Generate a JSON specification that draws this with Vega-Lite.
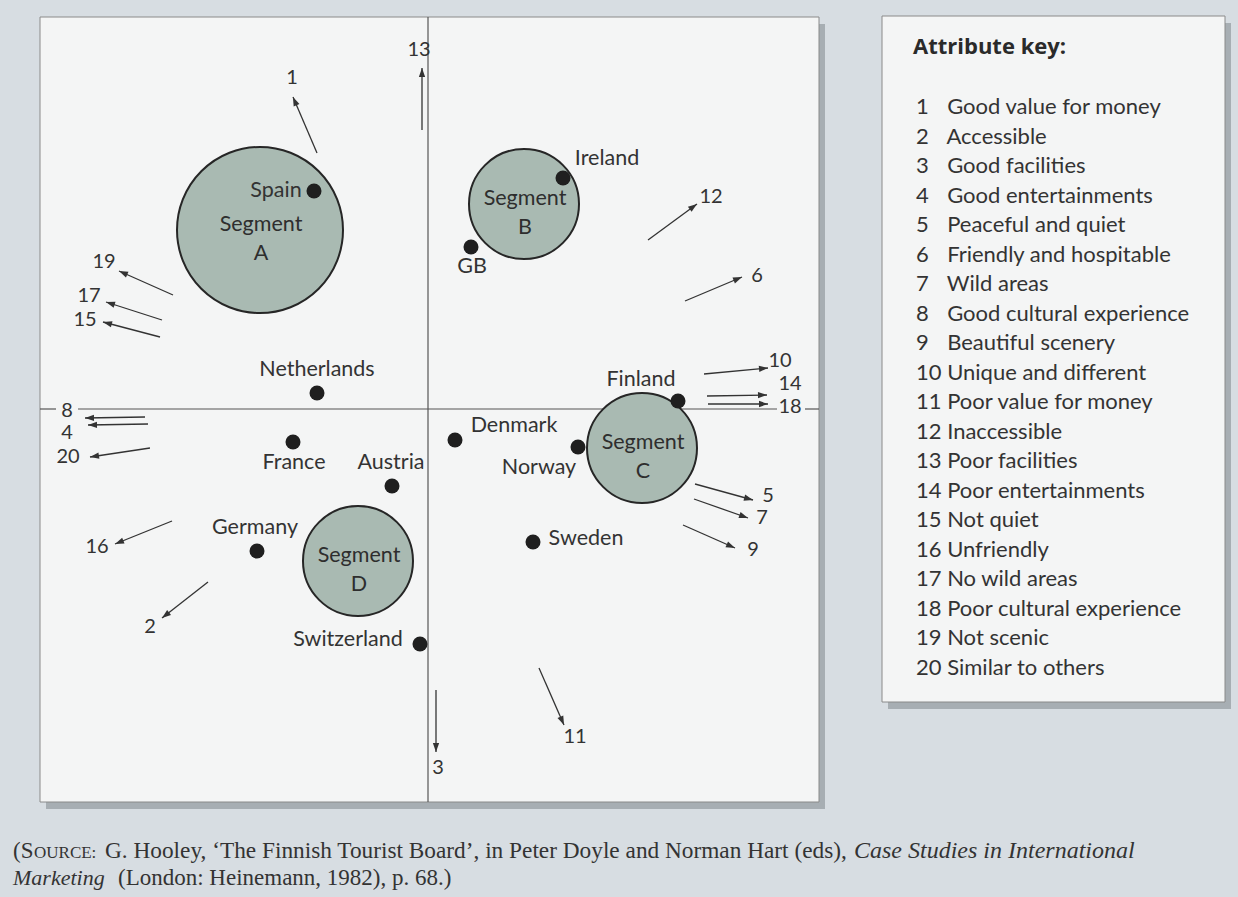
{
  "$schema": "https://vega.github.io/schema/vega-lite/v6.json",
  "width": 1238,
  "height": 897,
  "autosize": {"type": "fit", "contains": "padding"},
  "padding": 0,
  "background": "#d7dde2",
  "config": {
    "view": {"stroke": null},
    "text": {"font": "Lato", "fontSize": 21.5, "color": "#333333"}
  },
  "datasets": {
    "frames": [
      {"part": "map", "x1": -388, "x2": 391, "y1": 392, "y2": -393},
      {"part": "key", "x1": 454, "x2": 797, "y1": 393, "y2": -293}
    ],
    "axes": [
      {"x1": 0, "y1": 392, "x2": 0, "y2": -393},
      {"x1": -388, "y1": 0, "x2": -372, "y2": 0},
      {"x1": -350, "y1": 0, "x2": 349, "y2": 0},
      {"x1": 377, "y1": 0, "x2": 391, "y2": 0}
    ],
    "segments": [
      {"segment": "A", "x": -168, "y": 179, "r": 83},
      {"segment": "B", "x": 96, "y": 205, "r": 55},
      {"segment": "C", "x": 214, "y": -39, "r": 55},
      {"segment": "D", "x": -70, "y": -152, "r": 55}
    ],
    "countries": [
      {"country": "Spain", "x": -114, "y": 218, "lx": -152, "ly": 218},
      {"country": "Ireland", "x": 135, "y": 231, "lx": 179, "ly": 250},
      {"country": "GB", "x": 43, "y": 162, "lx": 44, "ly": 142},
      {"country": "Netherlands", "x": -111, "y": 16, "lx": -111, "ly": 39},
      {"country": "Finland", "x": 250, "y": 8, "lx": 213, "ly": 29},
      {"country": "France", "x": -135, "y": -33, "lx": -134, "ly": -54},
      {"country": "Denmark", "x": 27, "y": -31, "lx": 86, "ly": -17},
      {"country": "Norway", "x": 150, "y": -38, "lx": 111, "ly": -59},
      {"country": "Austria", "x": -36, "y": -77, "lx": -37, "ly": -54},
      {"country": "Germany", "x": -171, "y": -142, "lx": -173, "ly": -119},
      {"country": "Sweden", "x": 105, "y": -133, "lx": 158, "ly": -130},
      {"country": "Switzerland", "x": -8, "y": -235, "lx": -80, "ly": -231}
    ],
    "attributes": [
      {"id": 1, "name": "Good value for money", "x1": -111, "y1": 256, "x2": -135, "y2": 312, "lx": -136, "ly": 331},
      {"id": 2, "name": "Accessible", "x1": -220, "y1": -173, "x2": -266, "y2": -209, "lx": -278, "ly": -218},
      {"id": 3, "name": "Good facilities", "x1": 8, "y1": -281, "x2": 8, "y2": -343, "lx": 10, "ly": -359},
      {"id": 4, "name": "Good entertainments", "x1": -280, "y1": -15, "x2": -340, "y2": -16, "lx": -361, "ly": -24},
      {"id": 5, "name": "Peaceful and quiet", "x1": 267, "y1": -75, "x2": 325, "y2": -91, "lx": 340, "ly": -87},
      {"id": 6, "name": "Friendly and hospitable", "x1": 257, "y1": 108, "x2": 314, "y2": 132, "lx": 329, "ly": 133},
      {"id": 7, "name": "Wild areas", "x1": 266, "y1": -90, "x2": 320, "y2": -109, "lx": 334, "ly": -109},
      {"id": 8, "name": "Good cultural experience", "x1": -283, "y1": -8, "x2": -343, "y2": -9, "lx": -361, "ly": -2},
      {"id": 9, "name": "Beautiful scenery", "x1": 255, "y1": -116, "x2": 307, "y2": -139, "lx": 325, "ly": -141},
      {"id": 10, "name": "Unique and different", "x1": 276, "y1": 35, "x2": 340, "y2": 41, "lx": 352, "ly": 48},
      {"id": 11, "name": "Poor value for money", "x1": 111, "y1": -259, "x2": 136, "y2": -316, "lx": 147, "ly": -328},
      {"id": 12, "name": "Inaccessible", "x1": 220, "y1": 169, "x2": 269, "y2": 205, "lx": 283, "ly": 212},
      {"id": 13, "name": "Poor facilities", "x1": -6, "y1": 279, "x2": -6, "y2": 341, "lx": -9, "ly": 359},
      {"id": 14, "name": "Poor entertainments", "x1": 279, "y1": 13, "x2": 339, "y2": 14, "lx": 362, "ly": 25},
      {"id": 15, "name": "Not quiet", "x1": -268, "y1": 72, "x2": -325, "y2": 87, "lx": -343, "ly": 89},
      {"id": 16, "name": "Unfriendly", "x1": -256, "y1": -112, "x2": -313, "y2": -135, "lx": -331, "ly": -138},
      {"id": 17, "name": "No wild areas", "x1": -266, "y1": 89, "x2": -322, "y2": 107, "lx": -339, "ly": 113},
      {"id": 18, "name": "Poor cultural experience", "x1": 280, "y1": 5, "x2": 340, "y2": 5, "lx": 362, "ly": 2},
      {"id": 19, "name": "Not scenic", "x1": -255, "y1": 114, "x2": -309, "y2": 138, "lx": -324, "ly": 147},
      {"id": 20, "name": "Similar to others", "x1": -278, "y1": -39, "x2": -338, "y2": -48, "lx": -360, "ly": -48}
    ]
  },
  "layer": [
    {
      "data": {"name": "frames"},
      "mark": {"type": "rect", "xOffset": 6, "x2Offset": 6, "yOffset": 7, "y2Offset": 7, "fill": "#80878d", "opacity": 0.55},
      "encoding": {
        "x": {"field": "x1", "type": "quantitative", "scale": {"domain": [-428, 810], "nice": false, "zero": false}, "axis": null},
        "x2": {"field": "x2"},
        "y": {"field": "y1", "type": "quantitative", "scale": {"domain": [-488, 409], "nice": false, "zero": false}, "axis": null},
        "y2": {"field": "y2"}
      }
    },
    {
      "data": {"name": "frames"},
      "mark": {"type": "rect", "fill": "#f4f5f5", "stroke": "#8a8a8a", "strokeWidth": 1},
      "encoding": {
        "x": {"field": "x1", "type": "quantitative", "scale": {"domain": [-428, 810], "nice": false, "zero": false}, "axis": null},
        "x2": {"field": "x2"},
        "y": {"field": "y1", "type": "quantitative", "scale": {"domain": [-488, 409], "nice": false, "zero": false}, "axis": null},
        "y2": {"field": "y2"}
      }
    },
    {
      "data": {"name": "axes"},
      "mark": {"type": "rule", "stroke": "#555555", "strokeWidth": 1.2},
      "encoding": {
        "x": {"field": "x1", "type": "quantitative", "scale": {"domain": [-428, 810], "nice": false, "zero": false}, "axis": null},
        "x2": {"field": "x2"},
        "y": {"field": "y1", "type": "quantitative", "scale": {"domain": [-488, 409], "nice": false, "zero": false}, "axis": null},
        "y2": {"field": "y2"}
      }
    },
    {
      "data": {"name": "segments"},
      "mark": {"type": "circle", "fill": "#a9bab2", "stroke": "#262626", "strokeWidth": 2, "opacity": 1},
      "encoding": {
        "x": {"field": "x", "type": "quantitative", "scale": {"domain": [-428, 810], "nice": false, "zero": false}, "axis": null},
        "y": {"field": "y", "type": "quantitative", "scale": {"domain": [-488, 409], "nice": false, "zero": false}, "axis": null},
        "size": {"field": "r", "type": "quantitative", "scale": {"type": "pow", "exponent": 2, "domain": [0, 100], "range": [0, 40000]}, "legend": null}
      }
    },
    {
      "data": {"name": "segments"},
      "mark": {"type": "text", "align": "center", "baseline": "middle", "dy": -5, "dx": 1, "color": "#2e2e2e"},
      "encoding": {
        "x": {"field": "x", "type": "quantitative", "scale": {"domain": [-428, 810], "nice": false, "zero": false}, "axis": null},
        "y": {"field": "y", "type": "quantitative", "scale": {"domain": [-488, 409], "nice": false, "zero": false}, "axis": null},
        "text": {"value": "Segment"}
      }
    },
    {
      "data": {"name": "segments"},
      "mark": {"type": "text", "align": "center", "baseline": "middle", "dy": 24, "dx": 1, "color": "#2e2e2e"},
      "encoding": {
        "x": {"field": "x", "type": "quantitative", "scale": {"domain": [-428, 810], "nice": false, "zero": false}, "axis": null},
        "y": {"field": "y", "type": "quantitative", "scale": {"domain": [-488, 409], "nice": false, "zero": false}, "axis": null},
        "text": {"field": "segment"}
      }
    },
    {
      "data": {"name": "countries"},
      "mark": {"type": "circle", "size": 225, "color": "#1f1f1f", "opacity": 1},
      "encoding": {
        "x": {"field": "x", "type": "quantitative", "scale": {"domain": [-428, 810], "nice": false, "zero": false}, "axis": null},
        "y": {"field": "y", "type": "quantitative", "scale": {"domain": [-488, 409], "nice": false, "zero": false}, "axis": null}
      }
    },
    {
      "data": {"name": "countries"},
      "mark": {"type": "text", "align": "center", "baseline": "middle"},
      "encoding": {
        "x": {"field": "lx", "type": "quantitative", "scale": {"domain": [-428, 810], "nice": false, "zero": false}, "axis": null},
        "y": {"field": "ly", "type": "quantitative", "scale": {"domain": [-488, 409], "nice": false, "zero": false}, "axis": null},
        "text": {"field": "country"}
      }
    },
    {
      "data": {"name": "attributes"},
      "transform": [
        {"calculate": "(datum.id < 10 ? datum.id + '\u2007 ' : datum.id + ' ') + datum.name", "as": "key"}
      ],
      "mark": {"type": "rule", "strokeWidth": 1.3},
      "encoding": {
        "x": {"field": "x1", "type": "quantitative", "scale": {"domain": [-428, 810], "nice": false, "zero": false}, "axis": null},
        "x2": {"field": "x2"},
        "y": {"field": "y1", "type": "quantitative", "scale": {"domain": [-488, 409], "nice": false, "zero": false}, "axis": null},
        "y2": {"field": "y2"},
        "color": {
          "field": "key",
          "type": "nominal",
          "sort": {"field": "id", "op": "min"},
          "scale": {"range": ["#333333"]},
          "legend": {
            "orient": "none",
            "legendX": 913,
            "legendY": 37,
            "title": "Attribute key:",
            "titleFont": "Open Sans",
            "titleFontSize": 22,
            "titleFontWeight": "bold",
            "titleColor": "#2a2a2a",
            "titlePadding": 37,
            "labelFont": "Lato",
            "labelFontSize": 22,
            "labelColor": "#333333",
            "labelLimit": 0,
            "labelOffset": -19,
            "symbolType": "circle",
            "symbolSize": 0,
            "symbolOpacity": 0,
            "symbolStrokeWidth": 0,
            "rowPadding": 7.5,
            "padding": 0
          }
        }
      }
    },
    {
      "data": {"name": "attributes"},
      "transform": [
        {"calculate": "atan2(datum.x2 - datum.x1, datum.y2 - datum.y1) * 180 / PI", "as": "heading"}
      ],
      "mark": {"type": "point", "shape": "M0,0L-0.35,1L0.35,1Z", "filled": true, "size": 324, "color": "#333333", "opacity": 1},
      "encoding": {
        "x": {"field": "x2", "type": "quantitative", "scale": {"domain": [-428, 810], "nice": false, "zero": false}, "axis": null},
        "y": {"field": "y2", "type": "quantitative", "scale": {"domain": [-488, 409], "nice": false, "zero": false}, "axis": null},
        "angle": {"field": "heading", "type": "quantitative", "scale": null}
      }
    },
    {
      "data": {"name": "attributes"},
      "mark": {"type": "text", "align": "center", "baseline": "middle", "fontSize": 20},
      "encoding": {
        "x": {"field": "lx", "type": "quantitative", "scale": {"domain": [-428, 810], "nice": false, "zero": false}, "axis": null},
        "y": {"field": "ly", "type": "quantitative", "scale": {"domain": [-488, 409], "nice": false, "zero": false}, "axis": null},
        "text": {"field": "id"}
      }
    },
    {
      "data": {"values": [{"t": "(S"}]},
      "mark": {"type": "text", "align": "left", "baseline": "alphabetic", "font": "Liberation Serif", "fontSize": 23},
      "encoding": {
        "x": {"datum": -415, "type": "quantitative", "scale": {"domain": [-428, 810], "nice": false, "zero": false}, "axis": null},
        "y": {"datum": -449, "type": "quantitative", "scale": {"domain": [-488, 409], "nice": false, "zero": false}, "axis": null},
        "text": {"field": "t"}
      }
    },
    {
      "data": {"values": [{"t": "OURCE:"}]},
      "mark": {"type": "text", "align": "left", "baseline": "alphabetic", "font": "Liberation Serif", "fontSize": 17},
      "encoding": {
        "x": {"datum": -394, "type": "quantitative", "scale": {"domain": [-428, 810], "nice": false, "zero": false}, "axis": null},
        "y": {"datum": -449, "type": "quantitative", "scale": {"domain": [-488, 409], "nice": false, "zero": false}, "axis": null},
        "text": {"field": "t"}
      }
    },
    {
      "data": {"values": [{"t": "G. Hooley, ‘The Finnish Tourist Board’, in Peter Doyle and Norman Hart (eds),"}]},
      "mark": {"type": "text", "align": "left", "baseline": "alphabetic", "font": "Liberation Serif", "fontSize": 23.3},
      "encoding": {
        "x": {"datum": -323, "type": "quantitative", "scale": {"domain": [-428, 810], "nice": false, "zero": false}, "axis": null},
        "y": {"datum": -449, "type": "quantitative", "scale": {"domain": [-488, 409], "nice": false, "zero": false}, "axis": null},
        "text": {"field": "t"}
      }
    },
    {
      "data": {"values": [{"t": "Case Studies in International"}]},
      "mark": {"type": "text", "align": "left", "baseline": "alphabetic", "font": "Liberation Serif", "fontSize": 24, "fontStyle": "italic"},
      "encoding": {
        "x": {"datum": 426, "type": "quantitative", "scale": {"domain": [-428, 810], "nice": false, "zero": false}, "axis": null},
        "y": {"datum": -449, "type": "quantitative", "scale": {"domain": [-488, 409], "nice": false, "zero": false}, "axis": null},
        "text": {"field": "t"}
      }
    },
    {
      "data": {"values": [{"t": "Marketing"}]},
      "mark": {"type": "text", "align": "left", "baseline": "alphabetic", "font": "Liberation Serif", "fontSize": 22, "fontStyle": "italic"},
      "encoding": {
        "x": {"datum": -415, "type": "quantitative", "scale": {"domain": [-428, 810], "nice": false, "zero": false}, "axis": null},
        "y": {"datum": -476, "type": "quantitative", "scale": {"domain": [-488, 409], "nice": false, "zero": false}, "axis": null},
        "text": {"field": "t"}
      }
    },
    {
      "data": {"values": [{"t": "(London: Heinemann, 1982), p. 68.)"}]},
      "mark": {"type": "text", "align": "left", "baseline": "alphabetic", "font": "Liberation Serif", "fontSize": 23},
      "encoding": {
        "x": {"datum": -310, "type": "quantitative", "scale": {"domain": [-428, 810], "nice": false, "zero": false}, "axis": null},
        "y": {"datum": -476, "type": "quantitative", "scale": {"domain": [-488, 409], "nice": false, "zero": false}, "axis": null},
        "text": {"field": "t"}
      }
    }
  ]
}
